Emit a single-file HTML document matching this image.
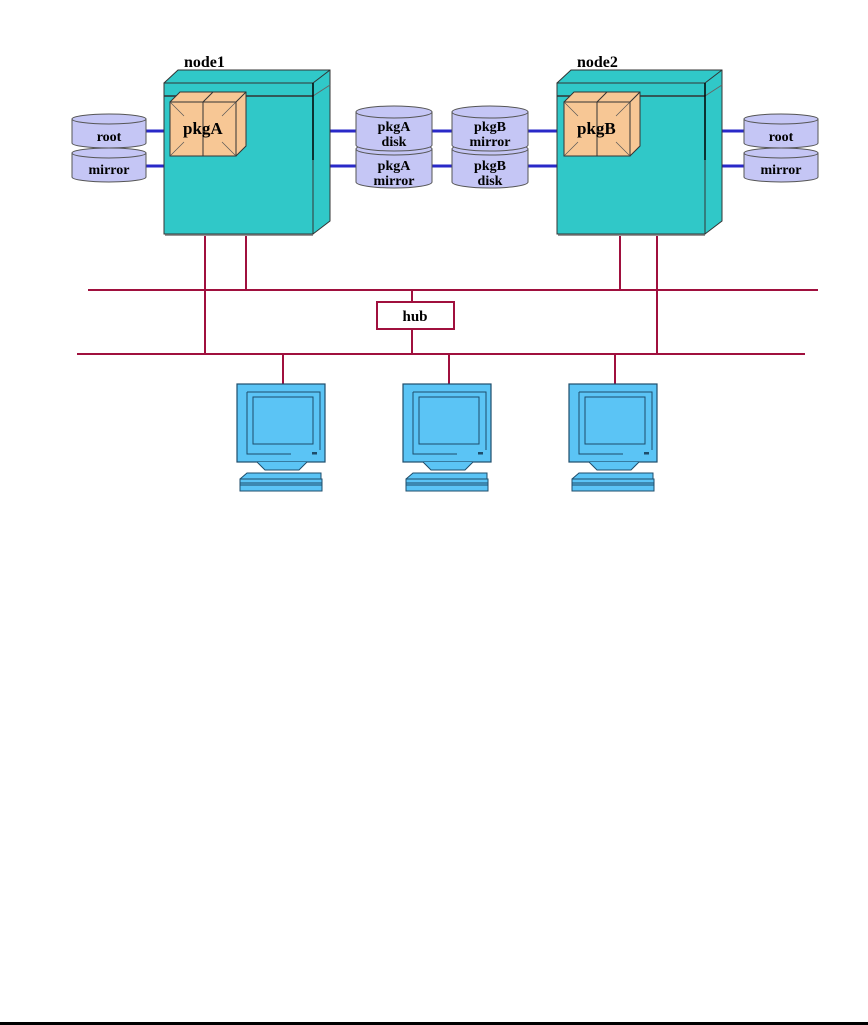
<!DOCTYPE html>
<html><head><meta charset="utf-8"><style>
html,body{margin:0;padding:0;background:#fff;}
svg{display:block;}
text{font-family:"Liberation Serif",serif;font-weight:bold;fill:#000;}
</style></head><body>
<svg width="868" height="1025" viewBox="0 0 868 1025" xmlns="http://www.w3.org/2000/svg">
<defs>
<g id="cyl">
 <path d="M0,5 L0,29 A37,5 0 0 0 74,29 L74,5 Z" fill="#c5c6f5" stroke="#555" stroke-width="1"/>
 <ellipse cx="37" cy="5" rx="37" ry="5" fill="#c5c6f5" stroke="#555"/>
</g>
<g id="cyl2">
 <path d="M0,6 L0,39 A38,6 0 0 0 76,39 L76,6 Z" fill="#c5c6f5" stroke="#555" stroke-width="1"/>
 <ellipse cx="38" cy="6" rx="38" ry="6" fill="#c5c6f5" stroke="#555"/>
</g>
<g id="comp">
 <rect x="0" y="0" width="88" height="78" fill="#5bc4f5" stroke="#1e4d6b" stroke-width="1.2"/>
 <path d="M10,8 H83 V66" fill="none" stroke="#1e4d6b"/>
 <path d="M10,8 V70 H54" fill="none" stroke="#1e4d6b"/>
 <rect x="16" y="13" width="60" height="47" fill="#5bc4f5" stroke="#1e4d6b"/>
 <rect x="75" y="68" width="5" height="2.5" fill="#1e4d6b"/>
 <path d="M20,78 L28,86 H62 L70,78" fill="#5bc4f5" stroke="#1e4d6b"/>
 <path d="M3,95 L10,89 H84 V96" fill="#5bc4f5" stroke="#1e4d6b"/>
 <rect x="3" y="95" width="82" height="12" fill="#5bc4f5" stroke="#1e4d6b"/>
 <line x1="3" y1="99" x2="85" y2="99" stroke="#1e4d6b"/>
 <line x1="3" y1="101" x2="85" y2="101" stroke="#1e4d6b"/>
</g>
<g id="pkg">
 <path d="M0,10 L10,0 H76 V54 L66,64 Z" fill="#f7c795" stroke="#333"/>
 <rect x="0" y="10" width="66" height="54" fill="#f7c795" stroke="#333"/>
 <path d="M66,10 L76,0 M33,10 L43,0 M33,10 V64" stroke="#333" fill="none"/>
 <path d="M0,10 L14,24 M66,10 L52,24 M0,64 L14,50 M66,64 L52,50" stroke="#555" stroke-width="0.7"/>
</g>
</defs>

<g stroke="#2929c8" stroke-width="3">
 <line x1="146" y1="131" x2="165" y2="131"/><line x1="146" y1="166" x2="165" y2="166"/>
 <line x1="330" y1="131" x2="356" y2="131"/><line x1="330" y1="166" x2="356" y2="166"/>
 <line x1="432" y1="131" x2="452" y2="131"/><line x1="432" y1="166" x2="452" y2="166"/>
 <line x1="528" y1="131" x2="558" y2="131"/><line x1="528" y1="166" x2="558" y2="166"/>
 <line x1="722" y1="131" x2="745" y2="131"/><line x1="722" y1="166" x2="745" y2="166"/>
</g>

<path d="M164,83 L178,70 H330 V221 L313,234 Z" fill="#30c8c8" stroke="#333"/>
<path d="M313,83 L330,70" stroke="#333"/>
<path d="M313,96 L330,85" stroke="#666"/>
<rect x="164" y="83" width="149" height="151" fill="#30c8c8" stroke="#333"/>
<line x1="164" y1="96" x2="313" y2="96" stroke="#333" stroke-width="1.5"/>
<line x1="313" y1="83" x2="313" y2="160" stroke="#000" stroke-width="1.5"/>
<line x1="165" y1="235" x2="313" y2="235" stroke="#777" stroke-width="1.5"/>
<text x="184" y="67" font-size="16">node1</text>
<use href="#pkg" x="170" y="92"/>
<text x="183" y="134" font-size="17">pkgA</text>

<path d="M557,83 L571,70 H722 V221 L705,234 Z" fill="#30c8c8" stroke="#333"/>
<path d="M705,83 L722,70" stroke="#333"/>
<path d="M705,96 L722,85" stroke="#666"/>
<rect x="557" y="83" width="148" height="151" fill="#30c8c8" stroke="#333"/>
<line x1="557" y1="96" x2="705" y2="96" stroke="#333" stroke-width="1.5"/>
<line x1="705" y1="83" x2="705" y2="160" stroke="#000" stroke-width="1.5"/>
<line x1="558" y1="235" x2="705" y2="235" stroke="#777" stroke-width="1.5"/>
<text x="577" y="67" font-size="16">node2</text>
<use href="#pkg" x="564" y="92"/>
<text x="577" y="134" font-size="17">pkgB</text>

<use href="#cyl" x="72" y="114"/><use href="#cyl" x="72" y="148"/>
<text x="109" y="141" font-size="14" text-anchor="middle">root</text>
<text x="109" y="174" font-size="14" text-anchor="middle">mirror</text>
<use href="#cyl" x="744" y="114"/><use href="#cyl" x="744" y="148"/>
<text x="781" y="141" font-size="14" text-anchor="middle">root</text>
<text x="781" y="174" font-size="14" text-anchor="middle">mirror</text>

<use href="#cyl2" x="356" y="143"/>
<text x="394" y="170" font-size="14" text-anchor="middle">pkgA</text>
<text x="394" y="185" font-size="14" text-anchor="middle">mirror</text>
<use href="#cyl2" x="356" y="106"/>
<text x="394" y="131" font-size="14" text-anchor="middle">pkgA</text>
<text x="394" y="146" font-size="14" text-anchor="middle">disk</text>

<use href="#cyl2" x="452" y="143"/>
<text x="490" y="170" font-size="14" text-anchor="middle">pkgB</text>
<text x="490" y="185" font-size="14" text-anchor="middle">disk</text>
<use href="#cyl2" x="452" y="106"/>
<text x="490" y="131" font-size="14" text-anchor="middle">pkgB</text>
<text x="490" y="146" font-size="14" text-anchor="middle">mirror</text>

<g stroke="#a0103e" stroke-width="2" fill="none">
 <line x1="88" y1="290" x2="818" y2="290"/>
 <line x1="77" y1="354" x2="805" y2="354"/>
 <line x1="205" y1="236" x2="205" y2="354"/>
 <line x1="246" y1="236" x2="246" y2="290"/>
 <line x1="620" y1="236" x2="620" y2="290"/>
 <line x1="657" y1="236" x2="657" y2="354"/>
 <line x1="412" y1="290" x2="412" y2="354"/>
 <line x1="283" y1="354" x2="283" y2="384"/>
 <line x1="449" y1="354" x2="449" y2="384"/>
 <line x1="615" y1="354" x2="615" y2="384"/>
 <rect x="377" y="302" width="77" height="27" fill="#fff"/>
</g>
<text x="415" y="321" font-size="15" text-anchor="middle">hub</text>

<use href="#comp" x="237" y="384"/>
<use href="#comp" x="403" y="384"/>
<use href="#comp" x="569" y="384"/>

<rect x="0" y="1022" width="868" height="3" fill="#000"/>
</svg>
</body></html>
